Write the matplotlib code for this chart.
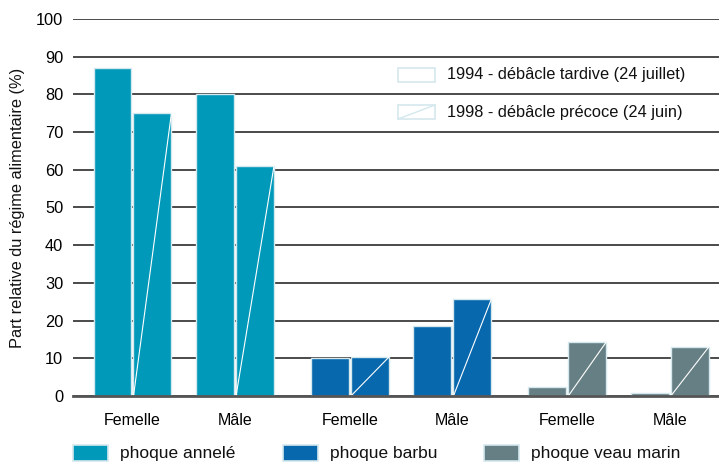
import matplotlib
matplotlib.use("Agg")
import matplotlib.pyplot as plt
from matplotlib.patches import Rectangle
from matplotlib.lines import Line2D

# --- Données ---
especes = ["phoque annelé", "phoque barbu", "phoque veau marin"]
sexes = ["Femelle", "Mâle"]
annees = ["1994 - débâcle tardive (24 juillet)", "1998 - débâcle précoce (24 juin)"]
v1994 = [87, 80, 10, 18.5, 2.5, 0.8]
v1998 = [75, 61, 10.3, 25.7, 14.3, 13]
yticks = list(range(0, 101, 10))

COULEURS = ["#0099b9", "#0868ad", "#667f84"]
BORD = "#d4e8ee"
GRILLE = "#2b2b2b"
W, H = 719, 465

plt.rcParams.update({
    "font.family": ["Liberation Sans", "DejaVu Sans"],
    "font.size": 11.5,
    "text.color": "#111111",
})

fig = plt.figure(figsize=(W / 100, H / 100), dpi=100)
ax = fig.add_axes([73 / W, 1 - 396 / H, 1 - 73 / W, (396 - 19) / H])

# positions : deux sexes par espèce, espace plus large entre espèces
pos = []
for i in range(len(especes)):
    for j in range(len(sexes)):
        pos.append(i * 2.12 + j)
largeur = 0.37
dx = 0.195

for k, x in enumerate(pos):
    c = COULEURS[k // 2]
    ax.bar(x - dx, v1994[k], width=largeur, color=c, edgecolor=BORD,
           linewidth=1.0, zorder=3)
    ax.bar(x + dx, v1998[k], width=largeur, color=c, edgecolor=BORD,
           linewidth=1.0, zorder=3)
    # diagonale blanche dans les barres 1998
    x0 = x + dx - largeur / 2
    ax.plot([x0, x0 + largeur], [0, v1998[k]], color="white", lw=0.8,
            zorder=4, solid_capstyle="butt")

ax.set_xlim(-0.58, 5.72)
ax.set_ylim(0, 100)
ax.set_yticks(yticks)
ax.set_yticklabels([str(t) for t in yticks], fontsize=11.8)
ax.set_xticks(pos)
ax.set_xticklabels([sexes[k % 2] for k in range(len(pos))], fontsize=11.5)
ax.tick_params(axis="x", length=0, pad=12)
ax.tick_params(axis="y", length=0, pad=7)
ax.yaxis.grid(True, color=GRILLE, linewidth=1.2, zorder=0)
ax.set_axisbelow(True)
for s in ("top", "right", "left"):
    ax.spines[s].set_visible(False)
ax.spines["bottom"].set_color("#555555")
ax.spines["bottom"].set_linewidth(2)
ax.spines["bottom"].set_zorder(5)

fig.text(18 / W, 1 - 208 / H, "Part relative du régime alimentaire (%)",
         rotation=90, ha="center", va="center", fontsize=11.8)

# légende des années (haut droite)
for i, lab in enumerate(annees):
    yc = 1 - (75 + 37 * i) / H
    r = Rectangle((398 / W, yc - 7 / H), 37 / W, 14 / H,
                  transform=fig.transFigure, facecolor="white",
                  edgecolor=BORD, linewidth=1.2)
    fig.patches.append(r)
    if i == 1:
        fig.lines.append(Line2D([398 / W, 435 / W],
                                [yc - 7 / H, yc + 7 / H],
                                transform=fig.transFigure, color=BORD, lw=1))
    fig.text(447 / W, yc, lab, ha="left", va="center", fontsize=11.8)

# légende des espèces (bas)
xs = [73, 283, 484]
for i, lab in enumerate(especes):
    yc = 1 - 453 / H
    r = Rectangle((xs[i] / W, yc - 8 / H), 35 / W, 16 / H,
                  transform=fig.transFigure, facecolor=COULEURS[i],
                  edgecolor=BORD, linewidth=1.2)
    fig.patches.append(r)
    fig.text((xs[i] + 47) / W, yc, lab, ha="left", va="center",
             fontsize=12.5)

fig.savefig("out.png", dpi=100)
